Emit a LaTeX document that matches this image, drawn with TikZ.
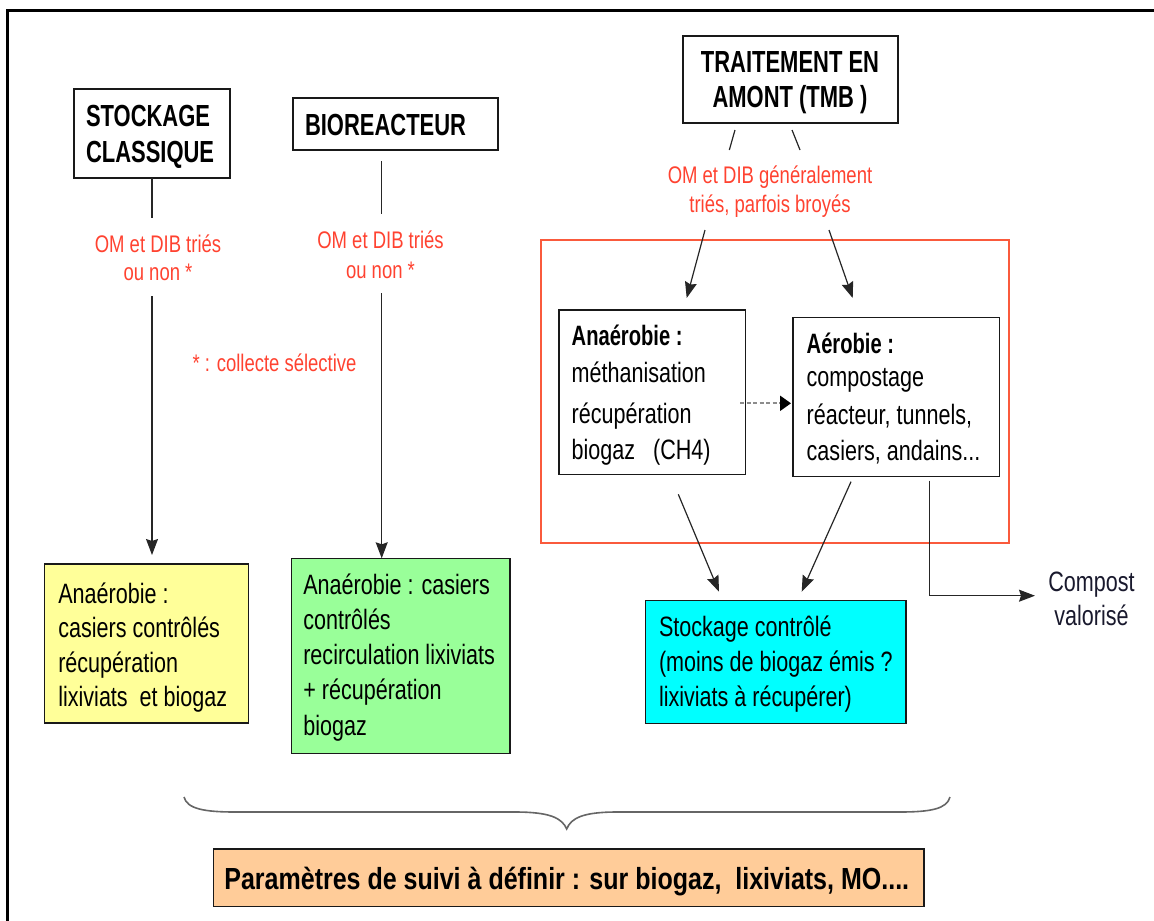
\documentclass[tikz,border=0pt]{standalone}
\usepackage{fontspec}
\setmainfont{Liberation Sans}[FakeStretch=0.77]
\newfontfamily\headfont{Liberation Sans Bold}[FakeStretch=0.72]
\newfontfamily\widebold{Liberation Sans Bold}[FakeStretch=0.82]
\usetikzlibrary{arrows.meta,calc}

\definecolor{cYel}{RGB}{255,255,153}
\definecolor{cGrn}{RGB}{153,255,153}
\definecolor{cCyn}{RGB}{0,255,255}
\definecolor{cOrg}{RGB}{255,204,153}
\definecolor{cRedT}{RGB}{255,66,48}
\definecolor{cRedB}{RGB}{250,90,60}
\definecolor{cInk}{RGB}{25,25,45}

% font presets
\newcommand\headtxt[1]{\headfont\fontsize{30.5}{#1}\selectfont}
\newcommand\boxtxt[1]{\fontsize{28}{#1}\selectfont}
\newcommand\redtxt[1]{\fontsize{24}{#1}\selectfont}

\begin{document}
\begin{tikzpicture}[x=1pt,y=-1pt,
  every node/.style={inner sep=0pt,outer sep=0pt},
  box/.style={draw=black!90,line width=1.5pt,rectangle,anchor=north west},
  zonebox/.style={draw=cRedB,line width=2pt,rectangle,anchor=north west},
  txt/.style={anchor=base west},
  ctxt/.style={anchor=base},
  redlbl/.style={anchor=base,text=cRedT},
  conn/.style={draw=black!85,line width=1.2pt},
  arr/.style={conn,-{Stealth[length=16pt,width=12pt,inset=2pt]}},
  dasharr/.style={draw=black!45,line width=2.2pt,dash pattern=on 4pt off 2.5pt,
    -{Triangle[length=11pt,width=15pt,color=black]}},
  brace/.style={draw=black!60,line width=1.6pt}]

\useasboundingbox (0,0) rectangle (1154,921);

% outer frame
\draw[line width=3pt] (7.5,960) -- (7.5,10) -- (1180,10);

% boxes
\node[box,minimum width=156pt,minimum height=89pt] (sc) at (74,89) {};
\node[box,minimum width=205pt,minimum height=52pt] (bio) at (293,98) {};
\node[box,minimum width=215pt,minimum height=87pt] (tmb) at (683,36) {};
\node[zonebox,minimum width=468pt,minimum height=303pt] (zone) at (541,240) {};
\node[box,fill=white,minimum width=186.7pt,minimum height=164.3pt] (ana) at (559,310) {};
\node[box,fill=white,minimum width=206.3pt,minimum height=159.4pt] (aer) at (793,317.3) {};
\node[box,fill=cYel,minimum width=203.6pt,minimum height=159pt] (yel) at (44.7,564) {};
\node[box,fill=cGrn,minimum width=218.3pt,minimum height=195pt] (grn) at (291.7,558.3) {};
\node[box,fill=cCyn,minimum width=260.3pt,minimum height=122.6pt] (cyn) at (645.7,600.7) {};
\node[box,fill=cOrg,minimum width=710.6pt,minimum height=57.7pt] (org) at (213.4,849) {};

% box texts
\node[txt] (scT) at (86,126) {\parbox[t]{150pt}{\raggedright\headtxt{36}STOCKAGE\\CLASSIQUE}};
\node[txt] (bioT) at (305,135) {\headtxt{36}BIOREACTEUR};
\node[ctxt] (tmbT) at (790,72) {\parbox[t]{220pt}{\centering\headtxt{35.5}TRAITEMENT EN\\AMONT (TMB )}};

\node[txt] (anaT) at (571.7,345.7) {\parbox[t]{180pt}{\raggedright\boxtxt{36.8}{\headfont Anaérobie :}\\méthanisation\\[3.8pt]récupération\\biogaz\ \ \ (CH4)}};
\node[txt] (aerT) at (806.7,353.3) {\parbox[t]{200pt}{\raggedright\boxtxt{36.5}{\headfont Aérobie :}\\[-3.1pt]compostage\\[1.1pt]réacteur, tunnels,\\casiers, andains...}};

\node[txt] (yelT) at (58.3,603.3) {\parbox[t]{200pt}{\raggedright\boxtxt{34.5}Anaérobie :\\casiers contrôlés\\récupération\\lixiviats\ \ et biogaz}};
\node[txt] (grnT) at (303.3,594.3) {\parbox[t]{210pt}{\raggedright\boxtxt{35.2}Anaérobie : casiers\\contrôlés\\recirculation lixiviats\\+ récupération\\biogaz}};
\node[txt] (cynT) at (659,636.7) {\parbox[t]{250pt}{\raggedright\boxtxt{35}Stockage contrôlé\\(moins de biogaz émis ?\\lixiviats à récupérer)}};
\node[txt] (orgT) at (224.4,889.3) {\widebold\fontsize{30.5}{36}\selectfont Paramètres de suivi à définir : sur biogaz,\ \ lixiviats, MO....};

\node[ctxt,text=cInk] (comp) at (1091.5,591.7) {\parbox[t]{110pt}{\centering\boxtxt{33.3}Compost\\valorisé}};

% red annotations
\node[redlbl] (lab1) at (158,252) {\parbox[t]{200pt}{\centering\redtxt{28}OM et DIB triés\\ou non *}};
\node[redlbl] (lab2) at (380.5,248) {\parbox[t]{200pt}{\centering\redtxt{30}OM et DIB triés\\ou non *}};
\node[redlbl] (lab3) at (770,183) {\parbox[t]{260pt}{\centering\redtxt{29}OM et DIB généralement\\triés, parfois broyés}};
\node[redlbl] (note) at (274.5,371) {\redtxt{24}* : collecte sélective};

% connector end points
\coordinate (b1) at (381.7,161);
\coordinate (b2) at (381.7,214);
\coordinate (b3) at (381.7,293);
\coordinate (t1a) at (735,130);
\coordinate (t1b) at (729.3,150);
\coordinate (t2a) at (792,130);
\coordinate (t2b) at (800,150);
\coordinate (s1) at (705,230);
\coordinate (e1) at (686.7,298);
\coordinate (s2) at (829,230);
\coordinate (e2) at (852.7,298);
\coordinate (d1) at (740,403.3);
\coordinate (d2) at (791,403.3);
\coordinate (s3) at (678.3,494.3);
\coordinate (e3) at (719,591.7);
\coordinate (s4) at (851,481.7);
\coordinate (e4) at (801.7,591.7);
\coordinate (k1) at (929.3,480.7);
\coordinate (k2) at (929.3,595.7);
\coordinate (k3) at (1035,595.7);

% connectors
\draw[conn] (sc.south) -- ++(0,40);
\draw[arr] ($(sc.south)+(0,118)$) -- ($(sc.south |- yel.north)+(0,-9)$);
\draw[conn] (b1) -- (b2);
\draw[arr] (b3) -- (b3 |- grn.north);
\draw[conn] (t1a) -- (t1b);
\draw[conn] (t2a) -- (t2b);
\draw[arr] (s1) -- (e1);
\draw[arr] (s2) -- (e2);
\draw[dasharr] (d1) -- (d2);
\draw[arr] (s3) -- (e3);
\draw[arr] (s4) -- (e4);
\draw[arr] (k1) -- (k2) -- (k3);

% curly brace over the monitoring box
\draw[brace] (184,797) .. controls (187,809) and (205,812) .. (235,812) -- (515,812)
  .. controls (550,812) and (562,818) .. (566.7,829)
  .. controls (571,818) and (583,812) .. (617,812) -- (900,812)
  .. controls (930,812) and (947,809) .. (950,797);
\end{tikzpicture}
\end{document}
